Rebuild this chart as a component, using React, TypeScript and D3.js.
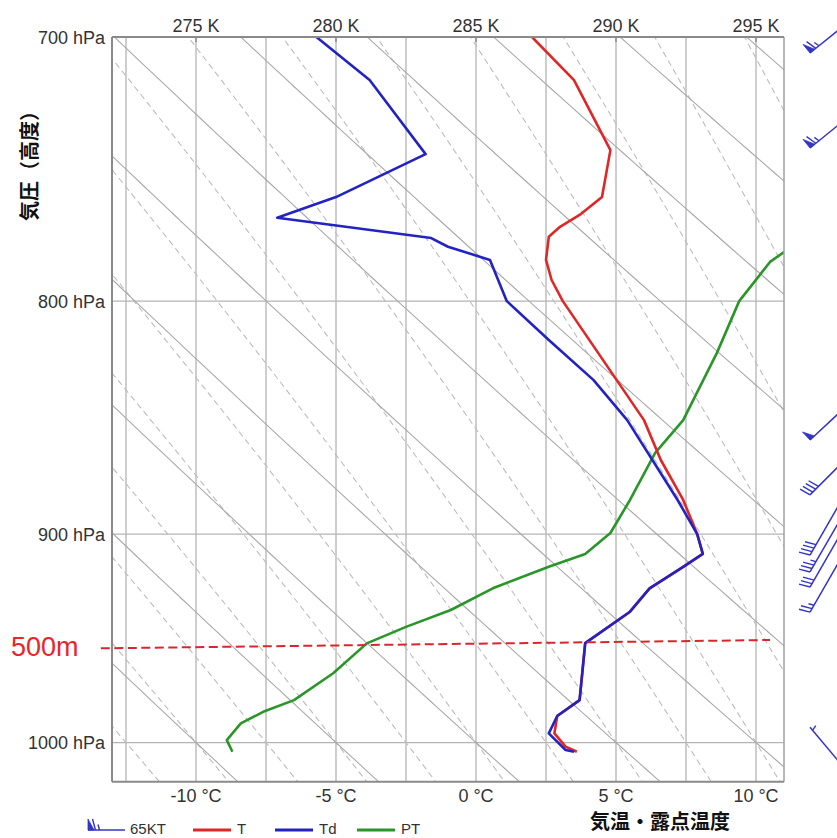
import React from 'react';
import * as d3 from 'd3';

// ---- Data ----
const pressureTicks = [700, 800, 900, 1000];
const celsiusTicks = [-10, -5, 0, 5, 10];
const kelvinTicks = [275, 280, 285, 290, 295];
const gridTemps = [-12.5, -10, -7.5, -5, -2.5, 0, 2.5, 5, 7.5, 10];

const tempP = [700, 715.4, 741.2, 759, 765.9, 770.5, 774.4, 783.5, 791.5, 800, 849.6, 866.9, 884.6, 900, 909, 915, 925, 936, 951, 978.8, 986.7, 995.4, 1002.1, 1004.7];
const tempC = [2.0, 3.5, 4.8, 4.5, 3.7, 3.0, 2.6, 2.5, 2.7, 3.1, 6.0, 6.6, 7.4, 7.9, 8.1, 7.4, 6.2, 5.5, 3.9, 3.7, 2.9, 2.8, 3.2, 3.6];

const dewP = [700, 715.4, 742.7, 759, 767, 774.9, 778.3, 783.5, 800, 815.9, 832.6, 849.6, 866.9, 884.6, 900, 909, 915, 925, 936, 951, 978.8, 986.7, 995.4, 1003.8, 1004.7];
const dewC = [-5.7, -3.8, -1.8, -5.0, -7.1, -1.6, -1.0, 0.5, 1.1, 2.6, 4.2, 5.4, 6.3, 7.2, 7.9, 8.1, 7.4, 6.2, 5.5, 3.9, 3.7, 2.9, 2.6, 3.2, 3.5];

const ptP = [777, 780.4, 784.3, 800, 821.3, 849.6, 863.8, 884.6, 899.5, 909.1, 915, 925, 935.2, 943.2, 951.1, 965.6, 978.8, 984.6, 990.4, 998.8, 1004.7];
const ptK = [296.4, 296.0, 295.5, 294.4, 293.6, 292.4, 291.4, 290.5, 289.8, 288.9, 287.6, 285.6, 284.1, 282.5, 281.1, 279.9, 278.5, 277.4, 276.6, 276.1, 276.3];

const markerP = [953.5, 949.5];
const markerT = [-13.4, 10.5];

const dryThetas = d3.range(-20, 46, 5);
const moistThetas = d3.range(-20, 31, 2.5);

const windP = [691.4, 725.4, 838.2, 860.3, 870.6, 878.1, 884.8, 896.1, 1022.6];
const windDir = [231, 231, 227, 225, 210, 210, 210, 210, 320];
const windSpd = [65, 65, 50, 40, 40, 35, 30, 25, 5];

const legendItems = [
  { label: 'T', color: '#e02626' },
  { label: 'Td', color: '#2323c3' },
  { label: 'PT', color: '#2a962a' },
];

// ---- helpers ----
function moistAdiabat(tw: number): [number, number][] {
  const Rd = 287.04, cp = 1005.7, Lv = 2.501e6, eps = 0.622;
  const f = (T: number, p: number) => {
    const Tc = T - 273.15;
    const es = 6.112 * Math.exp((17.67 * Tc) / (Tc + 243.5));
    const rs = (eps * es) / (p - es);
    return (1 / p) * (Rd * T + Lv * rs) / (cp + (Lv * Lv * rs * eps) / (Rd * T * T));
  };
  const integrate = (pEnd: number, dp: number) => {
    const out: [number, number][] = [];
    let T = tw + 273.15;
    let p = 1000;
    out.push([T - 273.15, p]);
    while ((dp < 0 && p > pEnd) || (dp > 0 && p < pEnd)) {
      const k1 = f(T, p);
      const k2 = f(T + k1 * dp / 2, p + dp / 2);
      const k3 = f(T + k2 * dp / 2, p + dp / 2);
      const k4 = f(T + k3 * dp, p + dp);
      T += (dp / 6) * (k1 + 2 * k2 + 2 * k3 + k4);
      p += dp;
      out.push([T - 273.15, p]);
    }
    return out;
  };
  const up = integrate(690, -2).reverse();
  const down = integrate(1030, 2).slice(1);
  return up.concat(down);
}

export default function App() {
  const W = 837, H = 838;
  const left = 112, right = 784, top = 37, bottom = 781.7;
  const x = d3.scaleLinear().domain([-13, 11]).range([left, right]);
  const xk = d3.scaleLinear().domain([272, 296]).range([left, right]);
  const y = d3.scaleLog().domain([700, 1020]).range([top, bottom]);

  const lineTP = d3.line<[number, number]>().x(d => x(d[0])).y(d => y(d[1]));
  const lineK = d3.line<[number, number]>().x(d => xk(d[0])).y(d => y(d[1]));

  const dryPaths = dryThetas.map(th => {
    const pts: [number, number][] = d3.range(690, 1031, 4).map(p => [
      (th + 273.15) * Math.pow(p / 1000, 0.2857) - 273.15,
      p,
    ]);
    return lineTP(pts) || '';
  });
  const moistPaths = moistThetas.map(tw => lineTP(moistAdiabat(tw)) || '');

  const tLine = lineTP(tempP.map((p, i) => [tempC[i], p] as [number, number])) || '';
  const dLine = lineTP(dewP.map((p, i) => [dewC[i], p] as [number, number])) || '';
  const ptLine = lineK(ptP.map((p, i) => [ptK[i], p] as [number, number])) || '';

  const font = '"Liberation Sans", Arial, Helvetica, sans-serif';
  const cjk = '"Noto Sans CJK JP", "Noto Sans CJK SC", sans-serif';
  const barbColor = '#3434c8';

  const barb = (tipX: number, tipY: number, ux: number, uy: number, L: number, spd: number, key: string) => {
    // u: unit vector anchor -> tip
    const nx = -uy, ny = ux;
    const ax = tipX - ux * L, ay = tipY - uy * L;
    const els: React.ReactNode[] = [];
    els.push(<line key={key + 's'} x1={ax} y1={ay} x2={tipX} y2={tipY} stroke={barbColor} strokeWidth={1.5} />);
    let s = spd;
    let pos = 0;
    const bl = 11, fw = 6, sp = 4;
    const flags = Math.floor(s / 50); s -= flags * 50;
    const full = Math.floor(s / 10); s -= full * 10;
    const half = s >= 5 ? 1 : 0;
    for (let i = 0; i < flags; i++) {
      const Ax = tipX - ux * pos, Ay = tipY - uy * pos;
      const Bx = tipX - ux * (pos + fw), By = tipY - uy * (pos + fw);
      const Cx = Ax + nx * bl, Cy = Ay + ny * bl;
      els.push(<polygon key={key + 'f' + i} points={`${Ax},${Ay} ${Cx},${Cy} ${Bx},${By}`} fill={barbColor} stroke={barbColor} strokeWidth={0.8} />);
      pos += fw + 1.5;
    }
    if (flags === 0 && full === 0) pos += sp;
    for (let i = 0; i < full; i++) {
      const Px = tipX - ux * pos, Py = tipY - uy * pos;
      els.push(<line key={key + 'b' + i} x1={Px} y1={Py} x2={Px + nx * bl + ux * 3} y2={Py + ny * bl + uy * 3} stroke={barbColor} strokeWidth={1.4} />);
      pos += sp;
    }
    if (half) {
      const Px = tipX - ux * pos, Py = tipY - uy * pos;
      els.push(<line key={key + 'h'} x1={Px} y1={Py} x2={Px + nx * bl * 0.5 + ux * 1.5} y2={Py + ny * bl * 0.5 + uy * 1.5} stroke={barbColor} strokeWidth={1.4} />);
    }
    return els;
  };

  const anchorX = 860;
  const windBarbs = windP.map((p, i) => {
    const dir = (windDir[i] * Math.PI) / 180;
    const ux = Math.sin(dir), uy = -Math.cos(dir);
    const L = 50 / Math.abs(ux);
    const ay = y(p);
    const tipX = anchorX + ux * L, tipY = ay + uy * L;
    return <g key={'w' + i}>{barb(tipX, tipY, ux, uy, L, windSpd[i], 'w' + i)}</g>;
  });

  const legendY = 830;

  return (
    <svg width={W} height={H} style={{ position: 'absolute', left: 0, top: 0, background: '#fff' }} xmlns="http://www.w3.org/2000/svg">
      <rect x={0} y={0} width={W} height={H} fill="#fff" />
      <defs>
        <clipPath id="plot">
          <rect x={left} y={top} width={right - left} height={bottom - top} />
        </clipPath>
      </defs>

      <g clipPath="url(#plot)">
        {gridTemps.map(t => (
          <line key={'gv' + t} x1={x(t)} x2={x(t)} y1={top} y2={bottom} stroke="#b4b4b4" strokeWidth={1.3} />
        ))}
        {pressureTicks.slice(1).map(p => (
          <line key={'gh' + p} x1={left} x2={right} y1={y(p)} y2={y(p)} stroke="#b4b4b4" strokeWidth={1.3} />
        ))}
        {moistPaths.map((d, i) => (
          <path key={'m' + i} d={d} fill="none" stroke="#bdbdbd" strokeWidth={1.1} strokeDasharray="6,4" />
        ))}
        {dryPaths.map((d, i) => (
          <path key={'d' + i} d={d} fill="none" stroke="#a9a9a9" strokeWidth={1.1} />
        ))}
        <path d={ptLine} fill="none" stroke="#2a962a" strokeWidth={2.6} strokeLinejoin="round" />
        <path d={tLine} fill="none" stroke="#e02626" strokeWidth={2.6} strokeLinejoin="round" />
        <path d={dLine} fill="none" stroke="#2323c3" strokeWidth={2.6} strokeLinejoin="round" />
      </g>

      {/* frame */}
      <line x1={right} x2={right} y1={top} y2={bottom} stroke="#a0a0a0" strokeWidth={1.5} />
      <line x1={left} x2={right} y1={top} y2={top} stroke="#8a8a8a" strokeWidth={2} />
      <line x1={left} x2={right} y1={bottom} y2={bottom} stroke="#8a8a8a" strokeWidth={2} />
      <line x1={left} x2={left} y1={top} y2={bottom} stroke="#8a8a8a" strokeWidth={2} />

      {/* 500m marker */}
      <line x1={x(markerT[0])} y1={y(markerP[0])} x2={x(markerT[1])} y2={y(markerP[1])} stroke="#d8262c" strokeWidth={2} strokeDasharray="9,4.5" />
      <text x={11} y={656} fontFamily={font} fontSize={27} fill="#e8262a">500m</text>

      {/* axes labels */}
      {pressureTicks.map(p => (
        <text key={'yl' + p} x={105} y={y(p) + 6.5} textAnchor="end" fontFamily={font} fontSize={18} fill="#333">{p} hPa</text>
      ))}
      {celsiusTicks.map(t => (
        <text key={'xl' + t} x={x(t)} y={802} textAnchor="middle" fontFamily={font} fontSize={18} fill="#333">{t} °C</text>
      ))}
      {kelvinTicks.map(k => (
        <g key={'kl' + k}>
          <line x1={xk(k)} x2={xk(k)} y1={top} y2={top + 5} stroke="#8a8a8a" strokeWidth={1.5} />
          <text x={xk(k)} y={31.5} textAnchor="middle" fontFamily={font} fontSize={18} fill="#333">{k} K</text>
        </g>
      ))}

      <text transform="translate(37,161) rotate(-90)" textAnchor="middle" fontFamily={cjk} fontSize={20} fontWeight={700} fill="#111">気圧（高度）</text>
      <text x={660} y={829} textAnchor="middle" fontFamily={cjk} fontSize={20} fontWeight={700} fill="#111">気温・露点温度</text>

      {/* wind barbs */}
      {windBarbs}

      {/* legend */}
      <g>{barb(88, legendY, -1, 0, 37, 65, 'lg')}</g>
      <text x={130} y={legendY + 4} fontFamily={font} fontSize={15} fill="#333">65KT</text>
      {legendItems.map((it, i) => {
        const x0 = [193, 275, 357][i];
        return (
          <g key={'li' + i}>
            <line x1={x0} x2={x0 + 38} y1={legendY} y2={legendY} stroke={it.color} strokeWidth={3} />
            <text x={x0 + 44} y={legendY + 4} fontFamily={font} fontSize={15} fill="#333">{it.label}</text>
          </g>
        );
      })}
    </svg>
  );
}
